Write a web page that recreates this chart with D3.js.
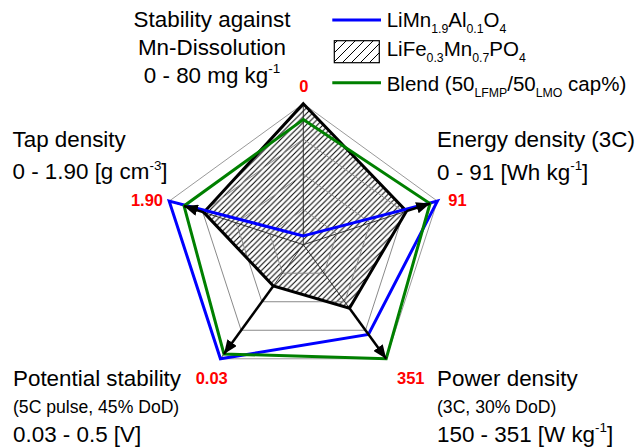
<!DOCTYPE html>
<html>
<head>
<meta charset="utf-8">
<script src="https://cdn.jsdelivr.net/npm/d3@7/dist/d3.min.js"></script>
<style>
  html, body { margin: 0; padding: 0; background: #fff; }
  svg { display: block; font-family: "Liberation Sans", Arial, sans-serif; }
</style>
</head>
<body>
<svg id="chart" width="637" height="447"></svg>
<script>
// Axis definitions (clockwise from top)
const axisKeys = ["mnDissolution", "energy", "power", "potential", "tap"];
// domain: [value at centre, value at outer ring]
const axisDomains = [[80, 0], [0, 91], [150, 351], [0.5, 0.03], [0, 1.90]];
const outerLabels = ["0", "91", "351", "0.03", "1.90"];

// Series values, in axis order
const lmoValues   = [75, 91, 308, 0.03, 1.90];
const lfmpValues  = [0, 70, 262, 0.33, 1.41];
const blendValues = [9, 86, 351, 0.05, 1.69];

const ringLevels = [0.25, 0.5, 0.75, 1];

const svg = d3.select("#chart");
const cx = 303.3, cy = 244.7, R = 141;

const scales = axisDomains.map(d => d3.scaleLinear().domain(d).range([0, R]));
const angle = i => -Math.PI / 2 + i * 2 * Math.PI / axisKeys.length;
const pt = (i, r) => [cx + r * Math.cos(angle(i)), cy + r * Math.sin(angle(i))];
const seriesPoints = vals => vals.map((v, i) => pt(i, scales[i](v)));

const defs = svg.append("defs");
function hatch(id, s, w) {
  defs.append("pattern")
    .attr("id", id).attr("patternUnits", "userSpaceOnUse")
    .attr("width", s).attr("height", s)
    .append("path")
    .attr("d", `M${-s/4},${s/4} l${s/2},${-s/2} M0,${s} l${s},${-s} M${s*3/4},${s*5/4} l${s/2},${-s/2}`)
    .attr("stroke", "#000").attr("stroke-width", w);
}
hatch("hatchMain", 5.6, 1.05);
hatch("hatchKey", 9, 1);

defs.append("marker")
  .attr("id", "arrowHead").attr("viewBox", "0 0 12 10")
  .attr("refX", 12).attr("refY", 5)
  .attr("markerUnits", "userSpaceOnUse")
  .attr("markerWidth", 14).attr("markerHeight", 11.5)
  .attr("orient", "auto")
  .append("path").attr("d", "M0,0 L12,5 L0,10 Z").attr("fill", "#000");

const line = d3.line().curve(d3.curveLinearClosed);

// hatched LiFe0.3Mn0.7PO4 area
svg.append("path").attr("d", line(seriesPoints(lfmpValues)))
  .attr("fill", "url(#hatchMain)").attr("stroke", "none");

// rings
svg.append("g").selectAll("path").data(ringLevels).join("path")
  .attr("d", f => line(axisKeys.map((k, i) => pt(i, f * R))))
  .attr("fill", "none")
  .attr("stroke", f => f === 1 ? "#9a9a9a" : "#8a8a8a")
  .attr("stroke-width", 1);

// spokes
svg.append("g").selectAll("line").data(axisKeys).join("line")
  .attr("x1", cx).attr("y1", cy)
  .attr("x2", (k, i) => pt(i, R)[0]).attr("y2", (k, i) => pt(i, R)[1])
  .attr("stroke", "#222").attr("stroke-width", 0.9);

// series outlines
svg.append("path").attr("d", line(seriesPoints(lfmpValues)))
  .attr("fill", "none").attr("stroke", "#000").attr("stroke-width", 3).attr("stroke-linejoin", "miter");
svg.append("path").attr("d", line(seriesPoints(lmoValues)))
  .attr("fill", "none").attr("stroke", "#0000ff").attr("stroke-width", 3).attr("stroke-linejoin", "miter");
svg.append("path").attr("d", line(seriesPoints(blendValues)))
  .attr("fill", "none").attr("stroke", "#008000").attr("stroke-width", 3).attr("stroke-linejoin", "miter");

// arrows from LFMP to blend along each axis (except the top one)
svg.append("g").selectAll("line").data(axisKeys.slice(1)).join("line")
  .each(function(k, j) {
    const i = j + 1;
    const a = pt(i, scales[i](lfmpValues[i]));
    const b = pt(i, scales[i](blendValues[i]));
    d3.select(this).attr("x1", a[0]).attr("y1", a[1]).attr("x2", b[0]).attr("y2", b[1]);
  })
  .attr("stroke", "#000").attr("stroke-width", 2.5)
  .attr("marker-end", "url(#arrowHead)");

// text with sub/superscripts
function rich(x, y, parts, size, anchor, fill) {
  const t = svg.append("text").attr("x", x).attr("y", y)
    .attr("font-size", size).attr("text-anchor", anchor || "start")
    .attr("fill", fill || "#000");
  let shift = 0;
  parts.forEach(p => {
    const s = typeof p === "string" ? { t: p } : p;
    let target = 0, fs = size;
    if (s.sub) { target = size * 0.3; fs = size * 0.6; }
    if (s.sup) { target = -size * 0.42; fs = size * 0.6; }
    t.append("tspan").attr("dy", target - shift).attr("font-size", fs).text(s.t);
    shift = target;
  });
  return t;
}

const F = 22.4;
// top axis title
rich(212, 27.3, ["Stability against"], F, "middle");
rich(212, 55, ["Mn-Dissolution"], F, "middle");
rich(212, 82.7, ["0 - 80 mg kg", { t: "-1", sup: true }], F, "middle");
// left
rich(12.5, 147.3, ["Tap density"], F);
rich(12.5, 179, ["0 - 1.90 [g cm", { t: "-3", sup: true }, "]"], F);
// right
rich(437, 147.3, ["Energy density (3C)"], F);
rich(437, 179.5, ["0 - 91 [Wh kg", { t: "-1", sup: true }, "]"], F);
// bottom left
rich(13, 386, ["Potential stability"], F);
rich(13, 413.3, ["(5C pulse, 45% DoD)"], 17.6);
rich(13, 441.7, ["0.03 - 0.5 [V]"], F);
// bottom right
rich(437, 386, ["Power density"], F);
rich(437, 413.3, ["(3C, 30% DoD)"], 17.6);
rich(437, 441.7, ["150 - 351 [W kg", { t: "-1", sup: true }, "]"], F);

// outer-ring values
const redPos = [[303.8, 91.7, "middle"], [448.3, 206, "start"], [424.5, 384, "end"], [195.7, 384, "start"], [163, 205.7, "end"]];
svg.append("g").selectAll("text").data(outerLabels).join("text")
  .attr("x", (d, i) => redPos[i][0]).attr("y", (d, i) => redPos[i][1])
  .attr("text-anchor", (d, i) => redPos[i][2])
  .attr("font-size", 16.5).attr("font-weight", "bold").attr("fill", "#ff0000")
  .text(d => d);

// legend
const LF = 20.5;
svg.append("line").attr("x1", 332.3).attr("x2", 381).attr("y1", 20).attr("y2", 20)
  .attr("stroke", "#0000ff").attr("stroke-width", 3);
rich(386.7, 27.3, ["LiMn", { t: "1.9", sub: true }, "Al", { t: "0.1", sub: true }, "O", { t: "4", sub: true }], LF);
svg.append("rect").attr("x", 334.3).attr("y", 40.7).attr("width", 45).attr("height", 22)
  .attr("fill", "url(#hatchKey)").attr("stroke", "#000").attr("stroke-width", 1.2);
rich(386.7, 56, ["LiFe", { t: "0.3", sub: true }, "Mn", { t: "0.7", sub: true }, "PO", { t: "4", sub: true }], LF);
svg.append("line").attr("x1", 332.3).attr("x2", 381).attr("y1", 82.7).attr("y2", 82.7)
  .attr("stroke", "#008000").attr("stroke-width", 3);
rich(386.7, 90.5, ["Blend (50", { t: "LFMP", sub: true }, "/50", { t: "LMO", sub: true }, " cap%)"], LF);
</script>
</body>
</html>
